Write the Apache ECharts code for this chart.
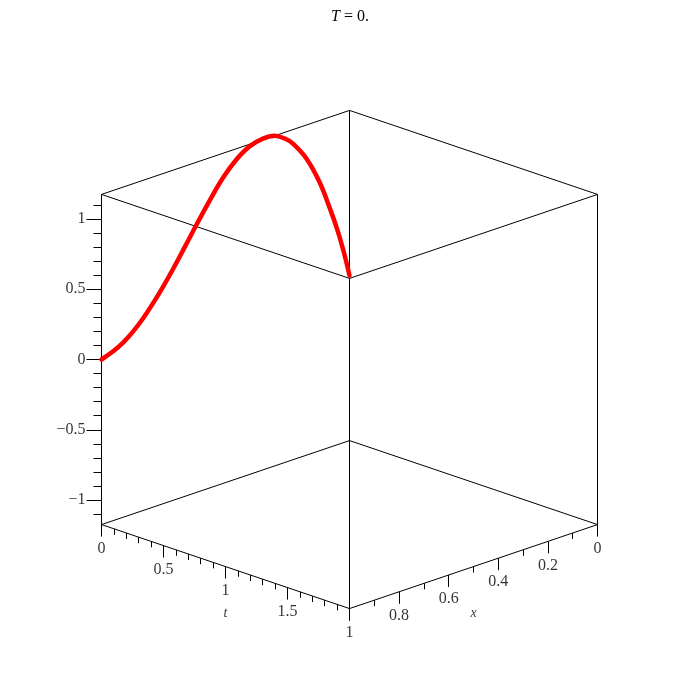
<!DOCTYPE html>
<html><head><meta charset="utf-8">
<script src="https://cdn.jsdelivr.net/npm/echarts@6/dist/echarts.min.js"></script>
<style>html,body{margin:0;padding:0;background:#fff}#c{width:700px;height:700px}</style>
</head><body><div id="c"></div>
<script>
// ---- data ----
const titleValue = '0.';
const curveT = 0;
const curveX = [1.000,0.953,0.913,0.873,0.832,0.792,0.752,0.712,0.665,0.617,0.564,0.510,0.456,0.403,0.349,0.302,0.255,0.228,0.174,0.121,0.081,0.047,0.020,0.000];
const curveU = [0.000,0.030,0.068,0.122,0.193,0.277,0.369,0.470,0.598,0.730,0.870,1.000,1.098,1.160,1.183,1.175,1.122,1.075,0.937,0.738,0.535,0.342,0.158,0.000];
const tRange = [0, 2];
const xRange = [0, 1];
const uRange = [-1.175, 1.175];
const uTickValues = [-1, -0.5, 0, 0.5, 1];
const uTickLabels = ['\u22121', '\u22120.5', '0', '0.5', '1'];
const tTickValues = [0, 0.5, 1, 1.5];
const tTickLabels = ['0', '0.5', '1', '1.5'];
const xTickValues = [0, 0.2, 0.4, 0.6, 0.8, 1];
const xTickLabels = ['0', '0.2', '0.4', '0.6', '0.8', '1'];
const tAxisTitle = 't';
const xAxisTitle = 'x';
const minorStep = 0.1;

// ---- projection of the 3D box onto the page ----
function P(t, x, u) {
  return [349.5 + 124 * t - 248 * x, 275.5 + 42 * t + 84 * x - 140.5 * u];
}
const FONT = 'Liberation Serif';

const uMin = uRange[0], uMax = uRange[1];
const t0 = tRange[0], t1 = tRange[1], x0 = xRange[0], x1 = xRange[1];

// box edges
const edges = [];
function E(a, b) { edges.push({ coords: [P(a[0], a[1], a[2]), P(b[0], b[1], b[2])] }); }
[uMin, uMax].forEach(u => {
  E([t0, x1, u], [t0, x0, u]);
  E([t0, x0, u], [t1, x0, u]);
  E([t1, x0, u], [t1, x1, u]);
  E([t1, x1, u], [t0, x1, u]);
});
[[t0, x0], [t0, x1], [t1, x0], [t1, x1]].forEach(c => E([c[0], c[1], uMin], [c[0], c[1], uMax]));

// ticks
const ticks = [];
const near = (a, b) => Math.abs(a - b) < 1e-6;
// u axis on edge t=0, x=1 : ticks pointing left
for (let k = Math.ceil(uMin / minorStep); k <= Math.floor(uMax / minorStep); k++) {
  const u = k * minorStep;
  const major = uTickValues.some(v => near(v, u));
  const p = P(t0, x1, u);
  ticks.push({ coords: [[p[0] - (major ? 15 : 8), p[1]], p] });
}
// t axis on edge x=1, u=min : ticks pointing down
for (let k = 0; k <= Math.round((t1 - t0) / minorStep); k++) {
  const t = t0 + k * minorStep;
  const major = near((t * 2) % 1, 0) || near((t * 2) % 1, 1);
  const p = P(t, x1, uMin);
  ticks.push({ coords: [p, [p[0], p[1] + (major ? 12 : 6)]] });
}
// x axis on edge t=2, u=min
for (let k = 0; k <= Math.round((x1 - x0) / minorStep); k++) {
  const x = x0 + k * minorStep;
  const major = xTickValues.some(v => near(v, x));
  const p = P(t1, x, uMin);
  ticks.push({ coords: [p, [p[0], p[1] + (major ? 12 : 6)]] });
}

// labels
const uLabels = uTickValues.map((v, i) => ({ name: uTickLabels[i], value: P(t0, x1, v) }));
const tLabels = tTickValues.map((v, i) => ({ name: tTickLabels[i], value: P(v, x1, uMin) }));
const xLabels = xTickValues.map((v, i) => ({ name: xTickLabels[i], value: P(t1, v, uMin) }));
const titles = [
  { name: tAxisTitle, value: P((t0 + t1) / 2, x1, uMin) },
  { name: xAxisTitle, value: P(t1, (x0 + x1) / 2, uMin) }
];

const curve = curveX.map((x, i) => P(curveT, x, curveU[i]));

const chart = echarts.init(document.getElementById('c'), null, { renderer: 'canvas' });
chart.setOption({
  animation: false,
  backgroundColor: '#fff',
  title: {
    text: '{i|T} = ' + titleValue,
    left: 'center',
    top: 4,
    textStyle: {
      fontFamily: FONT, fontSize: 16, fontWeight: 'normal', color: '#000',
      rich: { i: { fontFamily: FONT, fontSize: 16, fontStyle: 'italic', color: '#000' } }
    }
  },
  grid: { left: 0, right: 0, top: 0, bottom: 0 },
  xAxis: { type: 'value', min: 0, max: 700, show: false },
  yAxis: { type: 'value', min: 0, max: 700, inverse: true, show: false },
  series: [
    {
      type: 'lines', coordinateSystem: 'cartesian2d', silent: true, z: 1,
      lineStyle: { color: '#000', width: 1, opacity: 1 },
      data: edges.concat(ticks)
    },
    {
      type: 'line', data: curve, showSymbol: false, smooth: 0.4, silent: true, z: 3,
      lineStyle: { color: '#ff0000', width: 4.5, cap: 'round' }
    },
    {
      type: 'scatter', symbolSize: 0, silent: true, data: uLabels,
      label: { show: true, position: 'left', distance: 16, formatter: '{b}',
        fontFamily: FONT, fontSize: 16, color: '#000' }
    },
    {
      type: 'scatter', symbolSize: 0, silent: true, data: tLabels.concat(xLabels),
      label: { show: true, position: 'inside', offset: [0, 24], formatter: '{b}',
        fontFamily: FONT, fontSize: 16, color: '#000', align: 'center', verticalAlign: 'middle' }
    },
    {
      type: 'scatter', symbolSize: 0, silent: true, data: titles,
      label: { show: true, position: 'inside', offset: [0, 47], formatter: '{b}',
        fontFamily: FONT, fontSize: 14, fontStyle: 'italic', color: '#000', align: 'center', verticalAlign: 'middle' }
    }
  ]
});
</script>
</body></html>
